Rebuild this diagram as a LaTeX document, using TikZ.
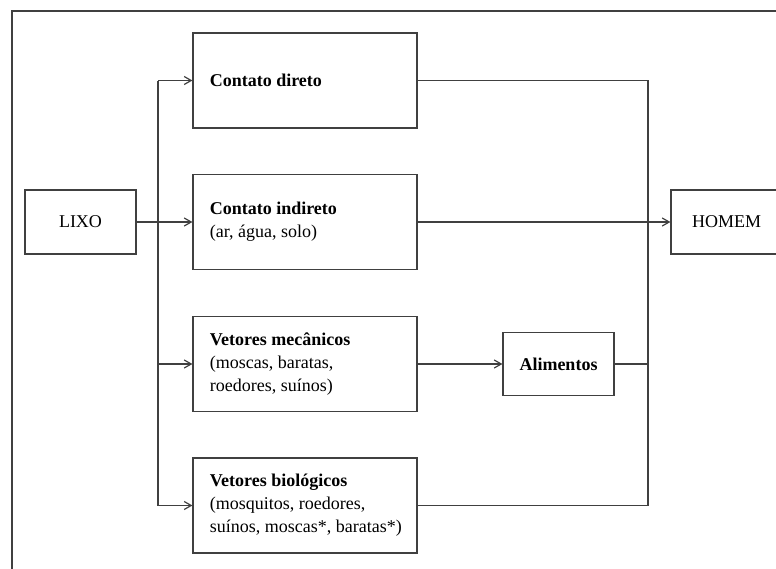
\documentclass[tikz,border=0pt]{standalone}
\usepackage{fontspec}
\setmainfont{Liberation Serif}
\usetikzlibrary{arrows.meta}
\definecolor{linec}{gray}{0.25}
\begin{document}
\begin{tikzpicture}[x=0.5pt,y=-0.5pt,
  lw/.style={line width=0.6pt, draw=linec},
  box/.style={lw, minimum width=112pt, minimum height=47.5pt, inner sep=0pt},
  txt/.style={anchor=west, inner sep=0pt, align=left, font=\fontsize{9}{11.5}\selectfont},
  smallbox/.style={lw, minimum width=55.5pt, minimum height=32pt, inner sep=0pt,
    align=center, font=\fontsize{9}{11.5}\selectfont},
  arr/.style={lw, -{Straight Barb[length=3.5pt,width=4pt]}},
  conn/.style={lw}]
\useasboundingbox (0,0) rectangle (776,568);
\clip (0,0) rectangle (776,568);
\draw[lw] (12,11) rectangle (800,600);

\node[box] (cd) at (305,80.5) {};
\node[box] (ci) at (305,222) {};
\node[box] (vm) at (305,364) {};
\node[box] (vb) at (305,505.5) {};
\node[txt] (tcd) at ([xshift=8.5pt]cd.west) {\textbf{Contato direto}};
\node[txt] (tci) at ([xshift=8.5pt]ci.west) {\textbf{Contato indireto}\\(ar, água, solo)};
\node[txt] (tvm) at ([xshift=8.5pt]vm.west) {\textbf{Vetores mecânicos}\\(moscas, baratas,\\roedores, suínos)};
\node[txt] (tvb) at ([xshift=8.5pt]vb.west) {\textbf{Vetores biológicos}\\(mosquitos, roedores,\\suínos, moscas*, baratas*)};
\node[smallbox] (lixo) at (80.5,222) {LIXO};
\node[smallbox] (homem) at (726.5,222) {HOMEM};
\node[smallbox, minimum height=31.5pt] (alim) at (558.5,364) {\textbf{Alimentos}};

\coordinate (bl) at (158,0);
\coordinate (br) at (648,0);

% left bus
\draw[conn] (cd.west -| bl) -- (vb.west -| bl);
\draw[conn] (lixo.east) -- (ci.west -| bl);
\draw[arr] (cd.west -| bl) -- (cd.west);
\draw[arr] (ci.west -| bl) -- (ci.west);
\draw[arr] (vm.west -| bl) -- (vm.west);
\draw[arr] (vb.west -| bl) -- (vb.west);

% right side
\draw[conn] (cd.east) -- (cd.east -| br) -- (vb.east -| br) -- (vb.east);
\draw[arr] (ci.east) -- (homem.west);
\draw[arr] (vm.east) -- (alim.west);
\draw[conn] (alim.east) -- (alim.east -| br);
\end{tikzpicture}
\end{document}
